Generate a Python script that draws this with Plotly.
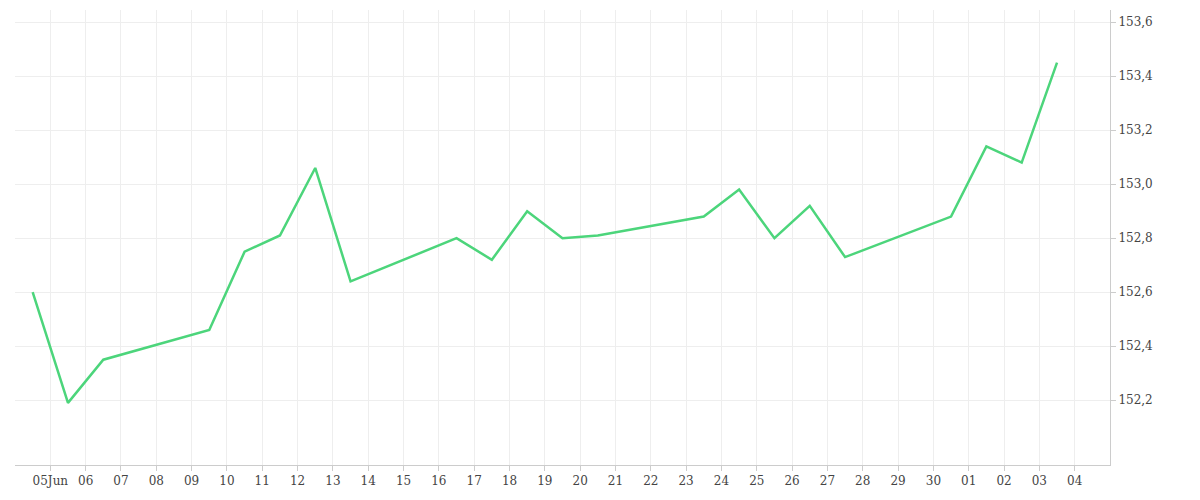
import plotly.graph_objects as go
import pandas as pd

dates = ["2024-06-04", "2024-06-05", "2024-06-06", "2024-06-09", "2024-06-10", "2024-06-11",
         "2024-06-12", "2024-06-13", "2024-06-16", "2024-06-17", "2024-06-18", "2024-06-19",
         "2024-06-20", "2024-06-23", "2024-06-24", "2024-06-25", "2024-06-26", "2024-06-27",
         "2024-06-30", "2024-07-01", "2024-07-02", "2024-07-03"]
values = [152.60, 152.19, 152.35, 152.46, 152.75, 152.81, 153.06, 152.64, 152.80, 152.72,
          152.90, 152.80, 152.81, 152.88, 152.98, 152.80, 152.92, 152.73, 152.88, 153.14,
          153.08, 153.45]

x = pd.to_datetime(dates) + pd.Timedelta(hours=12)
tick_days = pd.date_range("2024-06-05", "2024-07-04")
tick_text = ["05Jun"] + [d.strftime("%d") for d in tick_days[1:]]

fig = go.Figure()
fig.add_trace(go.Scatter(x=x, y=values, mode="lines",
                         line=dict(color="#4cd57b", width=2.5)))
fig.update_layout(
    width=1200, height=500, showlegend=False,
    plot_bgcolor="white", paper_bgcolor="white",
    margin=dict(l=7, r=98, t=2, b=43),
    separators=",.",
    font=dict(family="DejaVu Serif", size=12, color="#444"),
    xaxis=dict(range=["2024-06-04", "2024-07-05"], tickvals=tick_days, ticktext=tick_text,
               showgrid=True, gridcolor="#eeeeee", ticks="outside", ticklen=5,
               tickcolor="#ccc", showline=True, linecolor="#ccc", zeroline=False),
    yaxis=dict(side="right", range=[151.96, 153.645], tickvals=[152.2, 152.4, 152.6, 152.8, 153.0, 153.2, 153.4, 153.6],
               tickformat=".1f", showgrid=True, gridcolor="#eeeeee", ticks="outside",
               ticklen=5, tickcolor="#ccc", showline=True, linecolor="#ccc", zeroline=False),
)
fig.write_html("out.html")
